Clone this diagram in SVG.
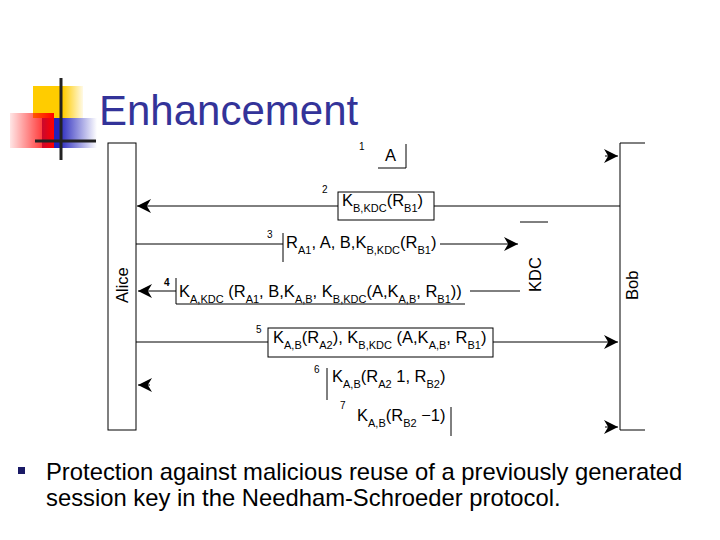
<svg xmlns="http://www.w3.org/2000/svg" width="720" height="540" viewBox="0 0 720 540">
<defs>
<linearGradient id="gy" x1="0" x2="1"><stop offset="0.6" stop-color="#ffcc00"/><stop offset="1" stop-color="#ffcc00" stop-opacity="0.1"/></linearGradient>
<linearGradient id="gr" x1="1" x2="0"><stop offset="0" stop-color="#ff0000"/><stop offset="1" stop-color="#ff0000" stop-opacity="0.1"/></linearGradient>
<linearGradient id="gb" x1="0" x2="1"><stop offset="0.3" stop-color="#2222bb"/><stop offset="1" stop-color="#2222bb" stop-opacity="0"/></linearGradient>
<marker id="ah" viewBox="0 0 10 10" refX="10" refY="5" markerWidth="14" markerHeight="14" markerUnits="userSpaceOnUse" orient="auto"><path d="M0,0 L10,5 L0,10 L3,5 z" fill="#000"/></marker>
<style>
.l{stroke:#000;stroke-width:1;fill:none}
.t{font-family:"Liberation Sans",Arial,sans-serif;font-size:16.5px;fill:#000}
.n{font-family:"Liberation Sans",Arial,sans-serif;font-size:10px;fill:#000}
.s{font-size:11px}
</style>
</defs>
<rect width="720" height="540" fill="#fff"/>
<g id="logo">
<rect x="33" y="86" width="50" height="32" fill="url(#gy)"/>
<rect x="42" y="118" width="55" height="30" fill="url(#gb)"/>
<rect x="10" y="113" width="44" height="35" fill="url(#gr)"/>
<line x1="61" y1="78" x2="61" y2="160" stroke="#222" stroke-width="3"/>
<line x1="35" y1="141" x2="96" y2="141" stroke="#222" stroke-width="3"/>
</g>
<text x="99" y="125" font-family="Liberation Sans,Arial,sans-serif" font-size="42" fill="#333399">Enhancement</text>
<g id="alice"><rect x="108" y="143" width="28" height="287" class="l"/><text transform="translate(128,303) rotate(-90)" class="t">Alice</text></g>
<g id="bob"><path d="M645,143 H620 V430 H645" class="l"/><text transform="translate(638,300) rotate(-90)" class="t">Bob</text></g>
<g id="kdc"><line x1="520" y1="222" x2="548" y2="222" class="l"/><text transform="translate(541,292) rotate(-90)" class="t">KDC</text></g>
<g id="connectors">
<path d="M605,156 L618,156" class="l" marker-end="url(#ah)"/>
<path d="M620,206 H434 M338,206 H137" class="l" marker-end="url(#ah)"/>
<path d="M136,244 H283 M440,244 H518" class="l" marker-end="url(#ah)"/>
<path d="M520,291 H470 M176,291 H138" class="l" marker-end="url(#ah)"/>
<path d="M136,342 H268 M493,342 H618" class="l" marker-end="url(#ah)"/>
<path d="M150,385 L138,385" class="l" marker-end="url(#ah)"/>
<path d="M605,427 L618,427" class="l" marker-end="url(#ah)"/>
</g>
<g id="m1"><text x="359" y="150" class="n">1</text><path d="M378,168 H406 V144" class="l"/><text x="385" y="161" class="t">A</text></g>
<g id="m2"><text x="322" y="193" class="n">2</text><rect x="338" y="192" width="96" height="28" class="l"/><text x="342" y="206" class="t">K<tspan class="s" dy="6">B,KDC</tspan><tspan dy="-6">(R</tspan><tspan class="s" dy="6">B1</tspan><tspan dy="-6">)</tspan></text></g>
<g id="m3"><text x="267" y="238" class="n">3</text><line x1="283" y1="233" x2="283" y2="262" class="l"/><text x="286" y="248" class="t">R<tspan class="s" dy="6">A1</tspan><tspan dy="-6">, A, B,K</tspan><tspan class="s" dy="6">B,KDC</tspan><tspan dy="-6">(R</tspan><tspan class="s" dy="6">B1</tspan><tspan dy="-6">)</tspan></text></g>
<g id="m4"><text x="164" y="286" class="n" font-weight="bold">4</text><path d="M176,278 V304 H465" class="l"/><text x="179" y="297" class="t">K<tspan class="s" dy="6">A,KDC</tspan><tspan dy="-6"> (R</tspan><tspan class="s" dy="6">A1</tspan><tspan dy="-6">, B,K</tspan><tspan class="s" dy="6">A,B</tspan><tspan dy="-6">, K</tspan><tspan class="s" dy="6">B,KDC</tspan><tspan dy="-6">(A,K</tspan><tspan class="s" dy="6">A,B</tspan><tspan dy="-6">, R</tspan><tspan class="s" dy="6">B1</tspan><tspan dy="-6">))</tspan></text></g>
<g id="m5"><text x="256" y="333" class="n">5</text><rect x="268" y="328" width="225" height="29" class="l"/><text x="273" y="343" class="t">K<tspan class="s" dy="6">A,B</tspan><tspan dy="-6">(R</tspan><tspan class="s" dy="6">A2</tspan><tspan dy="-6">), K</tspan><tspan class="s" dy="6">B,KDC</tspan><tspan dy="-6"> (A,K</tspan><tspan class="s" dy="6">A,B</tspan><tspan dy="-6">, R</tspan><tspan class="s" dy="6">B1</tspan><tspan dy="-6">)</tspan></text></g>
<g id="m6"><text x="314" y="373" class="n">6</text><line x1="327" y1="368" x2="327" y2="400" class="l"/><text x="332" y="382" class="t">K<tspan class="s" dy="6">A,B</tspan><tspan dy="-6">(R</tspan><tspan class="s" dy="6">A2</tspan><tspan dy="-6">   1, R</tspan><tspan class="s" dy="6">B2</tspan><tspan dy="-6">)</tspan></text></g>
<g id="m7"><text x="340" y="409" class="n">7</text><line x1="451" y1="407" x2="451" y2="436" class="l"/><text x="357" y="421" class="t">K<tspan class="s" dy="6">A,B</tspan><tspan dy="-6">(R</tspan><tspan class="s" dy="6">B2</tspan><tspan dy="-6"> −1)</tspan></text></g>
<rect x="18" y="467" width="7" height="7" fill="#1a1a66"/>
<text font-family="Liberation Sans,Arial,sans-serif" font-size="23.8" fill="#000"><tspan x="46" y="480">Protection against malicious reuse of a previously generated</tspan><tspan x="46" y="506">session key in the Needham-Schroeder protocol.</tspan></text>
</svg>
